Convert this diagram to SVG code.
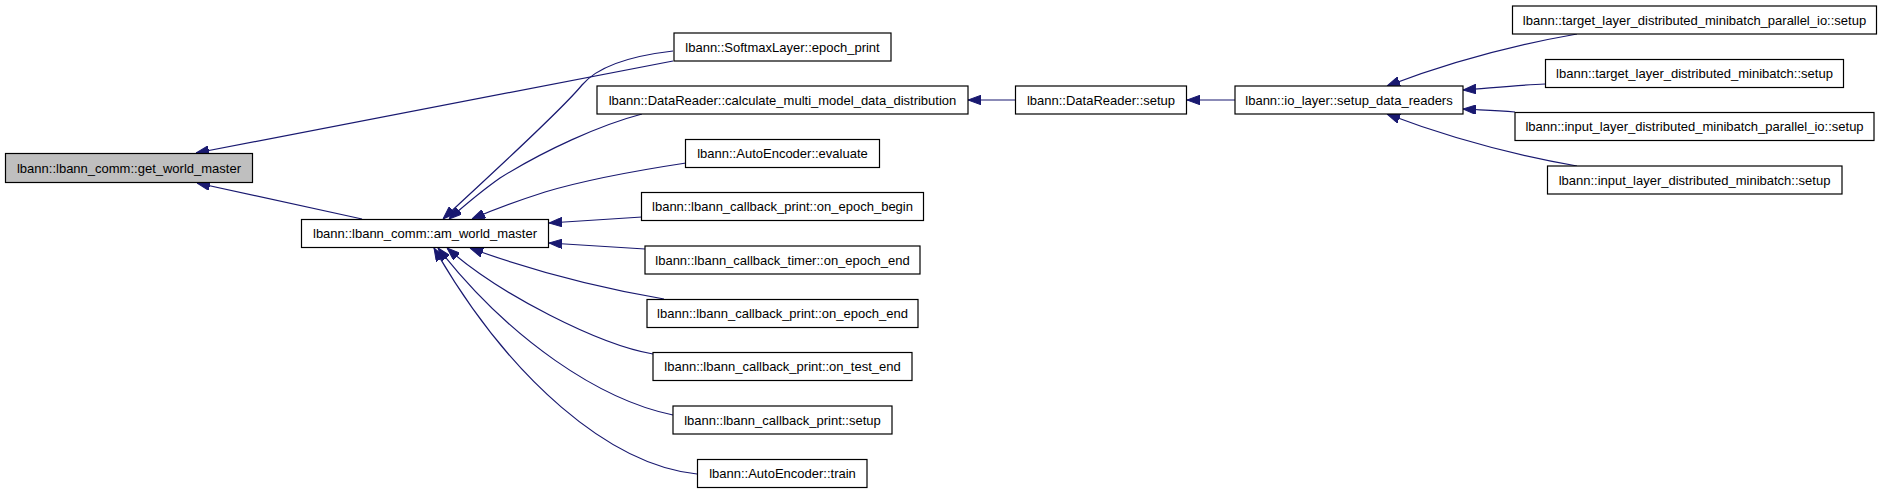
<svg xmlns="http://www.w3.org/2000/svg" width="1883" height="493" viewBox="0 0 1883 493">
<style>
.node rect{fill:#ffffff;stroke:#000000;stroke-width:1.2}
.node.hl rect{fill:#bfbfbf}
.node text{font-family:"Liberation Sans",Arial,Helvetica,sans-serif;font-size:13px;fill:#000000;text-anchor:middle}
.edges path{fill:none;stroke:#191970;stroke-width:1.2;marker-end:url(#arr)}
</style>
<defs>
<marker id="arr" viewBox="0 0 13 9.5" refX="13" refY="4.75" markerWidth="13" markerHeight="9.5" markerUnits="userSpaceOnUse" orient="auto">
<path d="M0,0 L13,4.75 L0,9.5 z" fill="#191970" stroke="#191970" stroke-width="1"/>
</marker>
</defs>
<rect x="0" y="0" width="1883" height="493" fill="#ffffff"/>
<g class="edges" id="edges">
<path d="M673,61 L196,153"/>
<path d="M362,219 L197,183"/>
<path d="M673,51 C630,56 598,66 582,85 C560,112 490,175 443,219"/>
<path d="M642,114 C600,125 545,150 500,178 C480,192 465,205 449,219"/>
<path d="M686,163 C640,170 585,180 545,192 C520,200 495,209 472,219"/>
<path d="M642,217 L549,223"/>
<path d="M645,249 L549,243"/>
<path d="M664,299 C600,288 530,270 470,248"/>
<path d="M653,354 C600,345 500,295 447,248"/>
<path d="M673,415 C600,400 510,340 438,248"/>
<path d="M697,474 C610,465 510,380 434,248"/>
<path d="M1016,100 L968,100"/>
<path d="M1235,100 L1187,100"/>
<path d="M1577,34 C1520,44 1450,62 1387,86"/>
<path d="M1545,84 C1520,85 1490,88 1463,90"/>
<path d="M1515,112 C1495,110 1480,110 1463,109"/>
<path d="M1577,166 C1520,156 1450,138 1387,114"/>
</g>
<g class="node hl" id="n_get_world_master"><rect x="5.5" y="153.5" width="247" height="29"/><text x="129" y="172.5">lbann::lbann_comm::get_world_master</text></g>
<g class="node" id="n_am_world_master"><rect x="301.5" y="219.5" width="247" height="28"/><text x="425" y="238">lbann::lbann_comm::am_world_master</text></g>
<g class="node" id="n_softmax_epoch_print"><rect x="674" y="33" width="217" height="28"/><text x="782.5" y="51.5">lbann::SoftmaxLayer::epoch_print</text></g>
<g class="node" id="n_calc_multi"><rect x="597" y="86" width="371" height="28"/><text x="782.5" y="104.5">lbann::DataReader::calculate_multi_model_data_distribution</text></g>
<g class="node" id="n_ae_evaluate"><rect x="685.5" y="139.5" width="194" height="28"/><text x="782.5" y="158">lbann::AutoEncoder::evaluate</text></g>
<g class="node" id="n_print_epoch_begin"><rect x="641.5" y="192.5" width="282" height="28"/><text x="782.5" y="211">lbann::lbann_callback_print::on_epoch_begin</text></g>
<g class="node" id="n_timer_epoch_end"><rect x="645" y="246" width="275" height="28"/><text x="782.5" y="264.5">lbann::lbann_callback_timer::on_epoch_end</text></g>
<g class="node" id="n_print_epoch_end"><rect x="647" y="299.5" width="271" height="28"/><text x="782.5" y="318">lbann::lbann_callback_print::on_epoch_end</text></g>
<g class="node" id="n_print_test_end"><rect x="653" y="352.5" width="259" height="28"/><text x="782.5" y="371">lbann::lbann_callback_print::on_test_end</text></g>
<g class="node" id="n_print_setup"><rect x="673" y="406" width="219" height="28"/><text x="782.5" y="424.5">lbann::lbann_callback_print::setup</text></g>
<g class="node" id="n_ae_train"><rect x="697.5" y="459.5" width="169.5" height="28"/><text x="782.5" y="478">lbann::AutoEncoder::train</text></g>
<g class="node" id="n_datareader_setup"><rect x="1015.5" y="86" width="171" height="28"/><text x="1101" y="104.5">lbann::DataReader::setup</text></g>
<g class="node" id="n_io_setup_data_readers"><rect x="1235" y="86" width="228" height="28"/><text x="1349" y="104.5">lbann::io_layer::setup_data_readers</text></g>
<g class="node" id="n_target_par_io_setup"><rect x="1512.5" y="6" width="364" height="28"/><text x="1694.5" y="24.5">lbann::target_layer_distributed_minibatch_parallel_io::setup</text></g>
<g class="node" id="n_target_setup"><rect x="1545.5" y="59.5" width="298" height="28"/><text x="1694.5" y="78">lbann::target_layer_distributed_minibatch::setup</text></g>
<g class="node" id="n_input_par_io_setup"><rect x="1515" y="112.5" width="359" height="28"/><text x="1694.5" y="131">lbann::input_layer_distributed_minibatch_parallel_io::setup</text></g>
<g class="node" id="n_input_setup"><rect x="1547.5" y="166" width="294.5" height="28"/><text x="1694.5" y="184.5">lbann::input_layer_distributed_minibatch::setup</text></g>
</svg>
